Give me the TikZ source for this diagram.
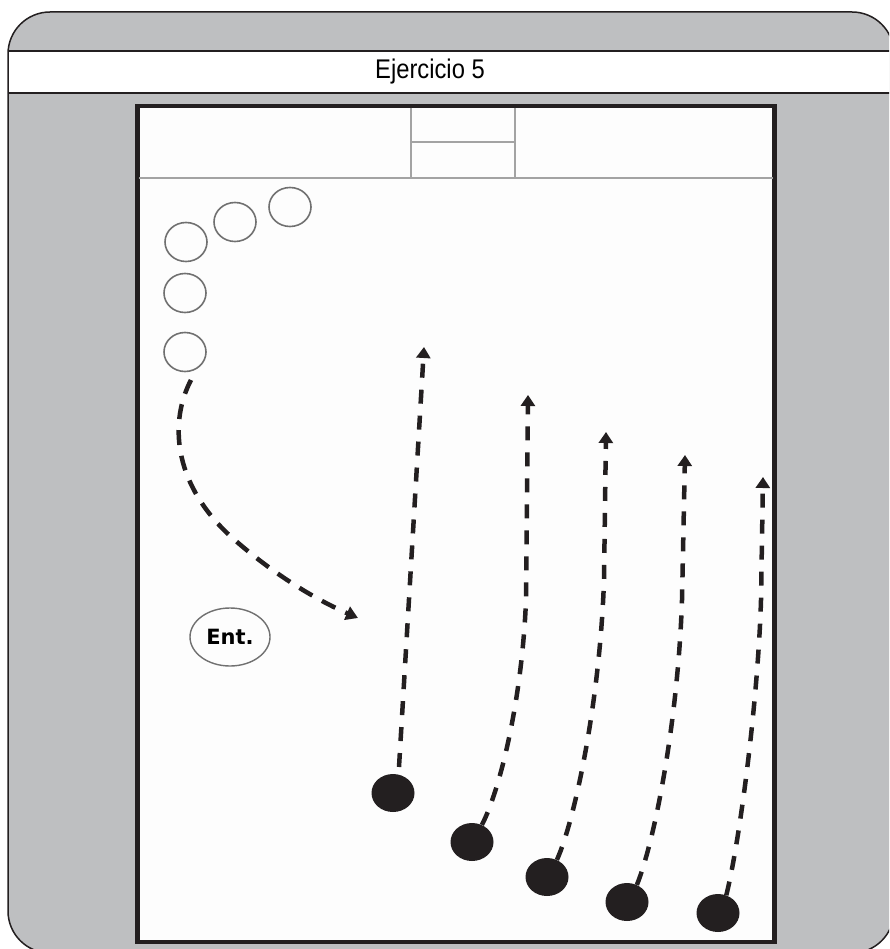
\documentclass[tikz,border=0pt]{standalone}
\usepackage{fontspec}
\usetikzlibrary{arrows.meta,shapes.geometric}
\newfontfamily\titlefont[FakeStretch=0.88]{Liberation Sans}
\newfontfamily\entfont{DejaVu Sans}
\definecolor{panelgray}{HTML}{BEBFC1}
\definecolor{inkc}{HTML}{231F20}
\definecolor{goalgray}{HTML}{A3A3A3}
\definecolor{ringgray}{HTML}{707070}
\definecolor{fieldw}{HTML}{FDFDFD}
\begin{document}
\begin{tikzpicture}[x=1pt,y=-1pt,
  ring/.style={ellipse,draw=ringgray,line width=1.6pt,minimum width=42pt,minimum height=39pt,inner sep=0pt},
  player/.style={ellipse,fill=inkc,minimum width=43pt,minimum height=38pt,inner sep=0pt},
  run/.style={draw=inkc,line width=4.5pt,dash pattern=on 14pt off 12pt,-{Triangle[length=11pt,width=14pt]}},
  curverun/.style={draw=inkc,line width=4.5pt,dash pattern=on 15pt off 11pt,-{Triangle[length=12pt,width=14pt]}},
  goalline/.style={draw=goalgray,line width=2pt}]
\useasboundingbox (0,0) rectangle (889,949);
\clip (0,0) rectangle (889,949);
% panel
\fill[panelgray,rounded corners=42pt] (8,12) rectangle (894,953);
\fill[white] (8,51) rectangle (894,93);
\draw[inkc,line width=2.2pt] (8,51) -- (894,51) (8,93) -- (894,93);
\draw[inkc,line width=1.5pt,rounded corners=42pt] (8,12) rectangle (894,953);
\node (title) at (430,72) {\titlefont\fontsize{27}{30}\selectfont Ejercicio 5};
% field
\draw[fill=fieldw,draw=inkc,line width=4.5pt] (137.5,106) rectangle (774.5,942);
\draw[goalline] (139,178) -- (773,178);
\draw[goalline] (411,108) -- (411,178) (515,108) -- (515,178) (411,142) -- (515,142);
% open circles
\node[ring] (c1) at (290,207) {};
\node[ring] (c2) at (235,222) {};
\node[ring] (c3) at (186,242) {};
\node[ring] (c4) at (185,293) {};
\node[ring] (c5) at (185,352) {};
% coach
\node[ellipse,draw=ringgray,line width=1.4pt,minimum width=80pt,minimum height=58pt,inner sep=0pt] (ent) at (230,637)
  {\entfont\bfseries\fontsize{21}{22}\selectfont Ent.};
% players
\node[player] (p1) at (393,793) {};
\node[player] (p2) at (472,842) {};
\node[player] (p3) at (547,877) {};
\node[player] (p4) at (627,902) {};
\node[player] (p5) at (718,913) {};
% coordinates
\coordinate (s0) at (191,380);
\coordinate (e0) at (358,618);
\coordinate (s1) at (399,767);
\coordinate (t1) at (424,347);
\coordinate (t2) at (528,395);
\coordinate (t3) at (606,432);
\coordinate (t4) at (685,455);
\coordinate (t5) at (763,477);
% runs
\draw[curverun] (s0) .. controls (170,420) and (172,480) .. (227,533) .. controls (265,568) and (310,597) .. (e0);
\draw[run] (s1) -- (t1);
\draw[run] (p2.60) .. controls (500,790) and (522,700) .. (526,600) -- (t2);
\draw[run] (p3.60) .. controls (575,820) and (600,700) .. (604,580) -- (t3);
\draw[run] (p4.60) .. controls (655,840) and (678,720) .. (682,600) -- (t4);
\draw[run] (p5.65) .. controls (740,840) and (758,700) .. (761,600) -- (t5);
\end{tikzpicture}
\end{document}
